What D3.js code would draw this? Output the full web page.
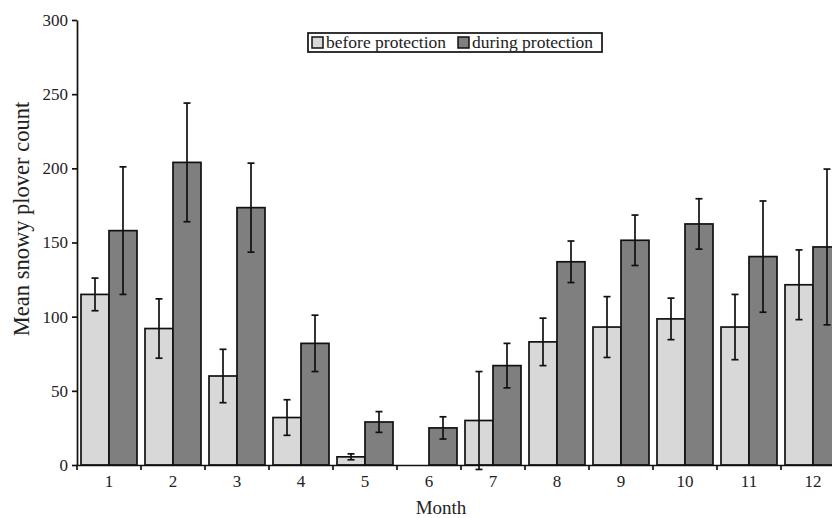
<!DOCTYPE html>
<html>
<head>
<meta charset="utf-8">
<script src="https://cdn.jsdelivr.net/npm/d3@7"></script>
<style>
  body { margin: 0; background: #fff; }
  svg { display: block; font-family: "Liberation Serif", "Times New Roman", serif; }
</style>
</head>
<body>
<div id="chart"></div>
<script>
// data
var months = ["1", "2", "3", "4", "5", "6", "7", "8", "9", "10", "11", "12"];
var seriesNames = ["before protection", "during protection"];
var beforeMean = [115, 92, 60, 32, 5.5, null, 30, 83, 93, 98.5, 93, 121.5];
var beforeErr  = [11, 20, 18, 12, 2, null, 33, 16, 20.5, 14, 22, 23.5];
var duringMean = [158, 204, 173.5, 82, 29, 25, 67, 137, 151.5, 162.5, 140.5, 147];
var duringErr  = [43, 40, 30, 19, 7, 7.5, 15, 14, 17, 17, 37.5, 52.5];
var yTicks = [0, 50, 100, 150, 200, 250, 300];

var colors = { "before protection": "#d8d8d8", "during protection": "#7f7f7f" };

var svgWidth = 832, svgHeight = 518;
var margin = { top: 20, left: 77 };
var plotBottom = 465;

var svg = d3.select("#chart").append("svg")
    .attr("width", svgWidth)
    .attr("height", svgHeight);

// scales
var y = d3.scaleLinear().domain([0, 300]).range([plotBottom, margin.top]);
var x0 = d3.scaleBand().domain(months).range([margin.left, margin.left + 64 * 12]);
var x1 = d3.scaleBand().domain(seriesNames).range([4, x0.bandwidth() - 4]);

// build rows
var rows = [];
months.forEach(function(m, i) {
    rows.push({ month: m, key: seriesNames[0], mean: beforeMean[i], err: beforeErr[i] });
    rows.push({ month: m, key: seriesNames[1], mean: duringMean[i], err: duringErr[i] });
});
rows = rows.filter(function(d) { return d.mean !== null; });

// bars
svg.append("g").selectAll("rect")
    .data(rows)
    .enter()
    .append("rect")
    .attr("x", d => x0(d.month) + x1(d.key))
    .attr("y", d => y(d.mean))
    .attr("width", x1.bandwidth())
    .attr("height", d => y(0) - y(d.mean))
    .attr("fill", d => colors[d.key])
    .attr("stroke", "#111")
    .attr("stroke-width", 1.7);

// error bars
var errG = svg.append("g").attr("stroke", "#111").attr("stroke-width", 1.7);
rows.forEach(function(d) {
    var cx = x0(d.month) + x1(d.key) + x1.bandwidth() / 2;
    var top = y(d.mean + d.err), bot = y(d.mean - d.err);
    errG.append("line").attr("x1", cx).attr("x2", cx).attr("y1", top).attr("y2", bot);
    errG.append("line").attr("x1", cx - 3.5).attr("x2", cx + 3.5).attr("y1", top).attr("y2", top);
    errG.append("line").attr("x1", cx - 3.5).attr("x2", cx + 3.5).attr("y1", bot).attr("y2", bot);
});

// y axis
var yAxis = svg.append("g")
    .attr("transform", `translate(${margin.left},0)`)
    .call(d3.axisLeft(y).tickValues(yTicks).tickSize(5).tickSizeOuter(0).tickPadding(4));
yAxis.select(".domain").attr("stroke", "#111").attr("stroke-width", 1.7);
yAxis.selectAll(".tick line").attr("stroke", "#111").attr("stroke-width", 1.7);
yAxis.selectAll("text")
    .attr("font-family", "Liberation Serif, serif")
    .attr("font-size", 17)
    .attr("fill", "#222");

// x axis: labels centred, ticks at category boundaries
var xAxis = svg.append("g")
    .attr("transform", `translate(0,${plotBottom})`)
    .call(d3.axisBottom(x0).tickSize(0).tickPadding(10));
xAxis.select(".domain").attr("stroke", "#111").attr("stroke-width", 1.7);
xAxis.selectAll("text")
    .attr("font-family", "Liberation Serif, serif")
    .attr("font-size", 17)
    .attr("fill", "#222");
xAxis.selectAll(".boundary")
    .data(months)
    .enter()
    .append("line")
    .attr("class", "boundary")
    .attr("x1", d => x0(d))
    .attr("x2", d => x0(d))
    .attr("y1", 0)
    .attr("y2", 5)
    .attr("stroke", "#111")
    .attr("stroke-width", 1.7);

// axis titles
svg.append("text")
    .attr("transform", "rotate(-90)")
    .attr("x", -219)
    .attr("y", 29)
    .attr("text-anchor", "middle")
    .attr("font-size", 22.5)
    .attr("fill", "#222")
    .text("Mean snowy plover count");

svg.append("text")
    .attr("x", 441)
    .attr("y", 514)
    .attr("text-anchor", "middle")
    .attr("font-size", 19)
    .attr("fill", "#222")
    .text("Month");

// legend
var legend = svg.append("g").attr("transform", "translate(308,33)");
legend.append("rect")
    .attr("x", 0).attr("y", 0)
    .attr("width", 294).attr("height", 19)
    .attr("fill", "#fff")
    .attr("stroke", "#111")
    .attr("stroke-width", 1.7);
var lx = [4, 150];
seriesNames.forEach(function(name, i) {
    legend.append("rect")
        .attr("x", lx[i]).attr("y", 4)
        .attr("width", 11).attr("height", 11)
        .attr("fill", colors[name])
        .attr("stroke", "#111")
        .attr("stroke-width", 1.5);
    legend.append("text")
        .attr("x", lx[i] + 14)
        .attr("y", 15)
        .attr("font-size", 17.5)
        .attr("fill", "#222")
        .text(name);
});
</script>
</body>
</html>
